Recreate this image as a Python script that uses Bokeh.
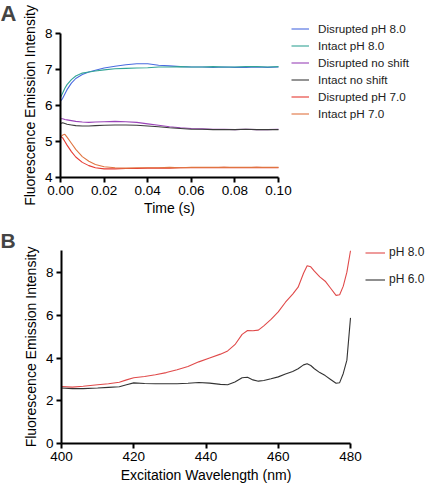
from bokeh.plotting import figure
from bokeh.layouts import column
from bokeh.models import (Legend, LegendItem, FixedTicker, NumeralTickFormatter,
                          Range1d, Label)
from bokeh.embed import file_html
from bokeh.resources import INLINE

FONT = "Liberation Sans"

# ---------------- Panel A data ----------------
time_s = [0.0, 0.001, 0.002, 0.003, 0.005, 0.007, 0.010, 0.013, 0.016, 0.020,
          0.025, 0.030, 0.035, 0.040, 0.045, 0.050, 0.055, 0.060, 0.065, 0.070,
          0.075, 0.080, 0.085, 0.090, 0.095, 0.100]
disrupted_ph8 = [6.12, 6.20, 6.32, 6.44, 6.62, 6.75, 6.86, 6.93, 6.98, 7.04,
                 7.09, 7.13, 7.16, 7.16, 7.12, 7.10, 7.08, 7.07, 7.07, 7.06,
                 7.07, 7.06, 7.06, 7.07, 7.06, 7.07]
intact_ph8 = [6.22, 6.35, 6.48, 6.58, 6.72, 6.82, 6.90, 6.93, 6.96, 6.99,
              7.02, 7.03, 7.04, 7.05, 7.07, 7.07, 7.08, 7.07, 7.07, 7.08,
              7.07, 7.07, 7.08, 7.08, 7.07, 7.08]
disrupted_noshift = [5.63, 5.63, 5.61, 5.60, 5.58, 5.56, 5.54, 5.53, 5.54, 5.55,
                     5.56, 5.55, 5.53, 5.49, 5.45, 5.41, 5.38, 5.36, 5.35, 5.34,
                     5.34, 5.33, 5.34, 5.33, 5.33, 5.34]
intact_noshift = [5.50, 5.52, 5.50, 5.48, 5.46, 5.44, 5.43, 5.43, 5.44, 5.45,
                  5.46, 5.46, 5.45, 5.43, 5.41, 5.38, 5.36, 5.34, 5.34, 5.33,
                  5.33, 5.33, 5.34, 5.33, 5.33, 5.33]
disrupted_ph7 = [5.14, 5.10, 5.00, 4.90, 4.72, 4.57, 4.42, 4.33, 4.27, 4.24,
                 4.24, 4.25, 4.25, 4.26, 4.26, 4.26, 4.27, 4.27, 4.27, 4.27,
                 4.28, 4.27, 4.27, 4.28, 4.27, 4.27]
intact_ph7 = [5.12, 5.18, 5.20, 5.12, 4.95, 4.78, 4.58, 4.45, 4.36, 4.30,
              4.27, 4.26, 4.27, 4.27, 4.27, 4.28, 4.27, 4.28, 4.28, 4.28,
              4.28, 4.28, 4.28, 4.28, 4.28, 4.28]
series_a_labels = ["Disrupted pH 8.0", "Intact pH 8.0", "Disrupted no shift",
                   "Intact no shift", "Disrupted pH 7.0", "Intact pH 7.0"]
series_a_colors = ["#4a6be0", "#34a596", "#9a44b8", "#3c3c3c", "#e63a32", "#e07440"]
a_xticks = [0.0, 0.02, 0.04, 0.06, 0.08, 0.10]
a_yticks = [4, 5, 6, 7, 8]

# ---------------- Panel B data ----------------
wavelength_nm = [400, 403, 406, 410, 413, 416, 418, 420, 423, 426, 429, 432, 435,
                 438, 441, 444, 446, 448, 450, 451.5, 453, 454.5, 456, 458, 460,
                 462, 464, 465.5, 467, 468, 469, 470, 471.5, 473, 474.5, 476, 477,
                 478, 479, 480]
ph80 = [2.67, 2.64, 2.68, 2.75, 2.80, 2.87, 2.98, 3.08, 3.14, 3.22, 3.32, 3.45, 3.60,
        3.82, 4.00, 4.18, 4.33, 4.62, 5.10, 5.28, 5.27, 5.30, 5.50, 5.80, 6.15,
        6.60, 6.98, 7.30, 7.95, 8.30, 8.25, 8.05, 7.78, 7.58, 7.25, 6.92, 6.95,
        7.35, 8.00, 9.00]
ph60 = [2.60, 2.57, 2.57, 2.60, 2.63, 2.66, 2.75, 2.84, 2.81, 2.80, 2.80, 2.80, 2.82,
        2.86, 2.83, 2.77, 2.75, 2.88, 3.08, 3.10, 2.98, 2.92, 2.95, 3.03, 3.12,
        3.25, 3.37, 3.50, 3.68, 3.73, 3.65, 3.50, 3.32, 3.18, 3.00, 2.82, 2.85,
        3.28, 3.90, 5.87]
series_b_labels = ["pH 8.0", "pH 6.0"]
series_b_colors = ["#e04a4a", "#333333"]
b_xticks = [400, 420, 440, 460, 480]
b_yticks = [0, 2, 4, 6, 8]

W = 425


def frame_range(v0, v1, p0, p1, size):
    """Data range for a full-figure frame where data v0 sits at pixel p0 and v1 at p1."""
    k = (v1 - v0) / (p1 - p0)
    return v0 - p0 * k, v0 + (size - p0) * k


def style(p, xb, yb, xfix, yfix, title_gap):
    p.xaxis.bounds = xb
    p.yaxis.bounds = yb
    p.xaxis.fixed_location = xfix
    p.yaxis.fixed_location = yfix
    for ax in (p.xaxis[0], p.yaxis[0]):
        ax.axis_line_width = 2
        ax.axis_line_color = "black"
        ax.major_tick_line_width = 2
        ax.major_tick_line_color = "black"
        ax.major_tick_out = 5
        ax.major_tick_in = 0
        ax.minor_tick_line_color = None
        ax.major_label_text_font = FONT
        ax.major_label_text_font_size = "13.5px"
        ax.major_label_text_color = "black"
        ax.major_label_standoff = 3
        ax.axis_label_text_font = FONT
        ax.axis_label_text_font_style = "normal"
        ax.axis_label_text_font_size = "14px"
        ax.axis_label_text_color = "black"
        ax.axis_label_standoff = 4
    p.xaxis.axis_label_standoff = title_gap
    p.grid.visible = False
    p.outline_line_color = None
    p.background_fill_color = "white"


# ---------------- Figure A ----------------
HA = 228
xa0, xa1 = frame_range(a_xticks[0], a_xticks[-1], 60, 278, W)
ya1, ya0 = frame_range(a_yticks[-1], a_yticks[0], 33, 177, HA)
pA = figure(width=W, height=HA, x_range=Range1d(xa0, xa1), y_range=Range1d(ya0, ya1),
            output_backend="svg", toolbar_location=None, min_border=0)
ys_a = [disrupted_ph8, intact_ph8, disrupted_noshift, intact_noshift,
        disrupted_ph7, intact_ph7]
items = []
for lab, col, ys in zip(series_a_labels, series_a_colors, ys_a):
    r = pA.line(time_s, ys, line_color=col, line_width=1.1)
    items.append(LegendItem(label=lab, renderers=[r]))
legA = Legend(items=items, location=(291, 106), glyph_width=18, glyph_height=17,
              label_height=17, spacing=0, padding=0, margin=0, label_standoff=9,
              border_line_color=None, background_fill_alpha=0,
              label_text_font=FONT, label_text_font_size="11.7px",
              label_text_color="#222222")
pA.add_layout(legA)
pA.add_layout(Label(x=0, y=HA, x_units="screen", y_units="screen", text="A",
                    text_font=FONT, text_font_size="22px", text_font_style="bold",
                    text_baseline="top", text_align="left"))
pA.xaxis.ticker = FixedTicker(ticks=a_xticks)
pA.xaxis.formatter = NumeralTickFormatter(format="0.00")
pA.yaxis.ticker = FixedTicker(ticks=a_yticks)
pA.xaxis.axis_label = "Time (s)"
pA.yaxis.axis_label = "Fluorescence Emission Intensity"
style(pA, (a_xticks[0], a_xticks[-1]), (a_yticks[0], a_yticks[-1]),
      a_yticks[0], a_xticks[0], 2)

# ---------------- Figure B ----------------
HB = 259
xb0, xb1 = frame_range(b_xticks[0], b_xticks[-1], 61, 350, W)
yb1, yb0 = frame_range(9, 0, 22.25, 215.3, HB)
pB = figure(width=W, height=HB, x_range=Range1d(xb0, xb1), y_range=Range1d(yb0, yb1),
            output_backend="svg", toolbar_location=None, min_border=0)
items_b = []
for lab, col, ys in zip(series_b_labels, series_b_colors, [ph80, ph60]):
    r = pB.line(wavelength_nm, ys, line_color=col, line_width=1.1)
    items_b.append(LegendItem(label=lab, renderers=[r]))
legB = Legend(items=items_b, location=(365, 194.5), glyph_width=20, glyph_height=27,
              label_height=27, spacing=0, padding=0, margin=0, label_standoff=4,
              border_line_color=None, background_fill_alpha=0,
              label_text_font=FONT, label_text_font_size="12px",
              label_text_color="#222222")
pB.add_layout(legB)
pB.add_layout(Label(x=0, y=HB, x_units="screen", y_units="screen", text="B",
                    text_font=FONT, text_font_size="21px", text_font_style="bold",
                    text_baseline="top", text_align="left"))
pB.xaxis.ticker = FixedTicker(ticks=b_xticks)
pB.yaxis.ticker = FixedTicker(ticks=b_yticks)
pB.xaxis.axis_label = "Excitation Wavelength (nm)"
pB.yaxis.axis_label = "Fluorescence Emission Intensity"
style(pB, (b_xticks[0], b_xticks[-1]), (0, 9), 0, b_xticks[0], 3)

layout = column(pA, pB, spacing=0)
open("out.html", "w").write(file_html(layout, INLINE))
